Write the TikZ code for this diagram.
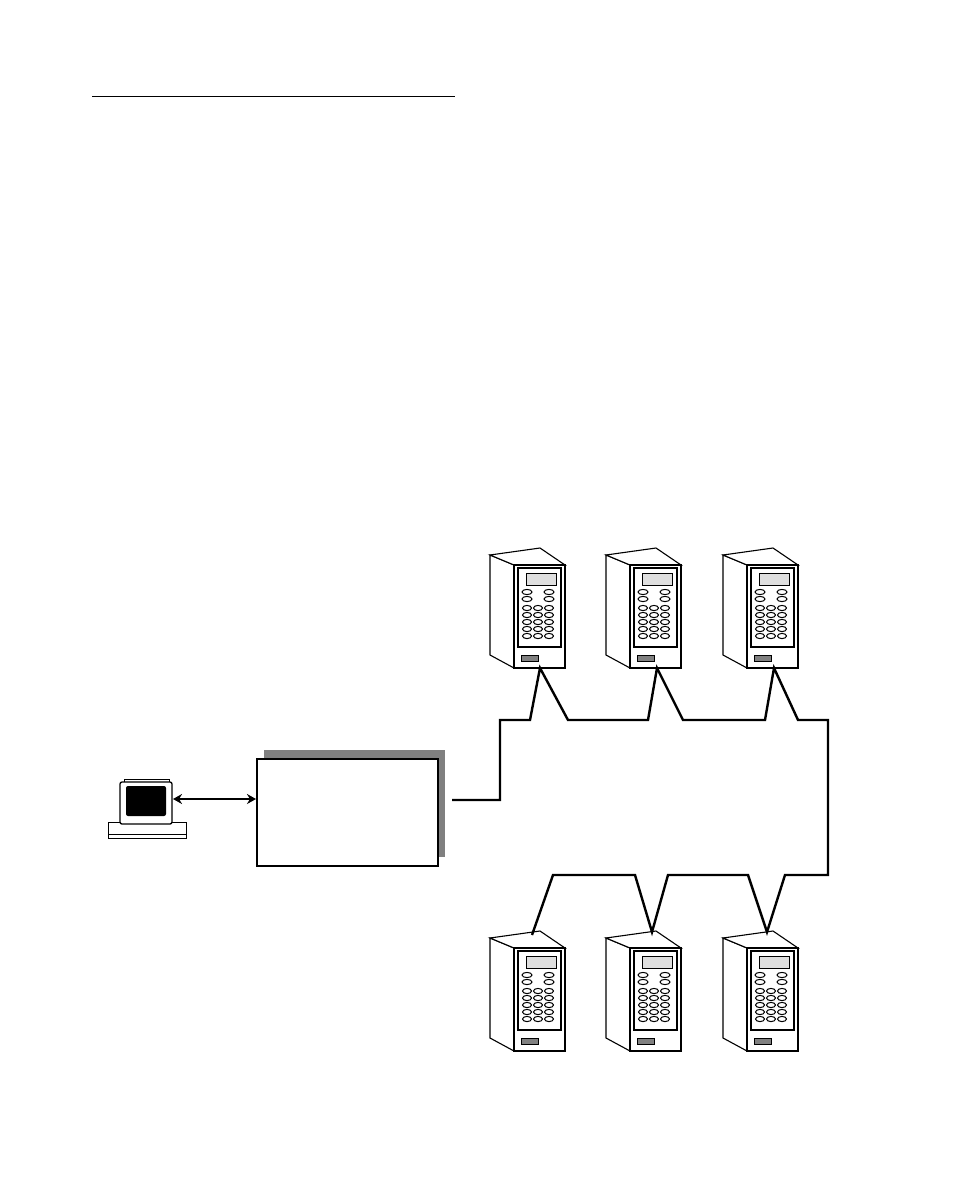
\documentclass[tikz,border=0pt]{standalone}
\usetikzlibrary{arrows.meta}
\begin{document}
\begin{tikzpicture}[x=1pt,y=-1pt,
  wire/.style={line width=2.4pt,line join=miter},
  dev/.pic={
    \draw[line width=1.1pt,fill=white] (0,0)--(-24,-10)--(-24,90)--(0,103)--cycle;
    \draw[line width=1.1pt,fill=white] (-24,-10)--(26,-17)--(51,0)--(0,0)--cycle;
    \draw[line width=2pt,fill=white] (0,0) rectangle (51,103);
    \draw[line width=1.3pt] (4,3) rectangle (47,82);
    \draw[line width=1pt,fill=gray!25] (12,8) rectangle (42,20);
    \foreach \yy in {27,34} \foreach \xx in {13,35} \draw[line width=1pt] (\xx,\yy) ellipse (5 and 2.6);
    \foreach \yy in {43,50,57,64,71} \foreach \xx in {13,24,35} \draw[line width=1pt] (\xx,\yy) ellipse (4.5 and 2.6);
    \draw[line width=1pt,fill=gray] (7,90) rectangle (24,96);
  }]
\useasboundingbox (0,0) rectangle (954,1202);
\draw[line width=1pt] (92,96)--(455,96);
% devices
\foreach \n/\x/\y in {d1/514/565,d2/630/565,d3/747/565,d4/514/948,d5/630/948,d6/747/948}
  \pic at (\x,\y) {dev};
\foreach \n/\x/\y in {d1/540/668,d2/657/668,d3/774/668} \coordinate (\n) at (\x,\y);
\foreach \n/\x/\y in {d4/532/935,d5/652/932,d6/767/932} \coordinate (\n) at (\x,\y);
% box
\fill[gray!80!black!60] (264,750) rectangle (445,857);
\fill[gray] (264,750) rectangle (445,857);
\node[draw,line width=2.2pt,fill=white,minimum width=181pt,minimum height=107pt,inner sep=0pt,anchor=north west] (box) at (256,758) {};
% computer
\draw[line width=1pt,fill=white] (108,822) rectangle (186,834);
\draw[line width=1pt] (108,834) rectangle (186,838);
\draw[line width=1pt,fill=white] (124,779) rectangle (169,783);
\draw[line width=1.3pt,fill=white,rounded corners=2pt] (120,782) rectangle (172,824);
\node[fill=black,rounded corners=2pt,minimum width=40pt,minimum height=30pt,inner sep=0pt] (pc) at (146,801) {};
\coordinate (pcr) at (173,799);
\draw[line width=2.2pt,{Stealth[length=9pt,width=10pt]}-{Stealth[length=9pt,width=10pt]}] (pcr) -- (box.west|-pcr);
% wiring
\coordinate (bo) at (box.east|-0,800);
\draw[wire] ([xshift=13pt]bo) -- (500,800) -- (500,720) -- (530,720) -- (d1) -- (568,720) -- (648,720) -- (d2) -- (683,720) -- (765,720) -- (d3) -- (798,720) -- (828,720) -- (828,875) -- (785,875) -- (d6) -- (748,875) -- (668,875) -- (d5) -- (635,875) -- (553,875) -- (d4);
\end{tikzpicture}
\end{document}
